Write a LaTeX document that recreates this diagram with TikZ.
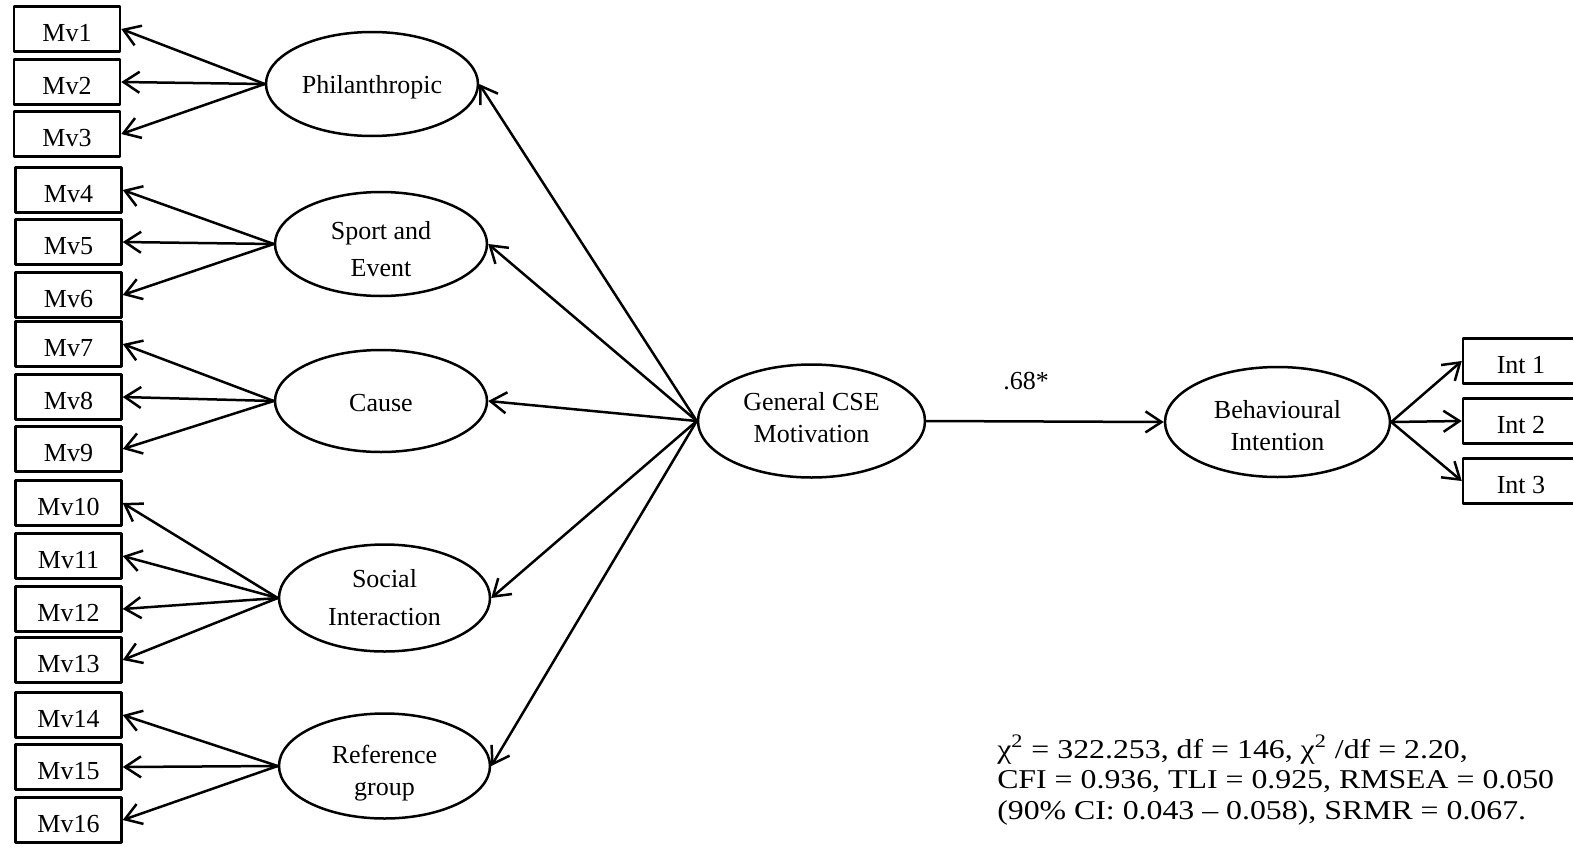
\documentclass[tikz,border=0pt]{standalone}
\usepackage{fontspec}
\setmainfont{Liberation Serif}
\newfontfamily\statfont[FakeStretch=1.17]{Liberation Serif}
\usetikzlibrary{shapes.geometric,arrows.meta}
\begin{document}
\begin{tikzpicture}[x=0.5pt,y=-0.5pt,>={Straight Barb[length=8pt,width=10.5pt]},
  line join=round, line cap=round, line width=1.25pt,
  font=\fontsize{13}{16}\selectfont,
  obs/.style={draw, rectangle, minimum width=53pt, minimum height=22.5pt, inner sep=0pt, text height=12pt, text depth=0pt},
  lat/.style={draw, ellipse, minimum width=106pt, minimum height=52pt, inner sep=0pt, align=center}]
\useasboundingbox (0,0) rectangle (1573,846);
% observed items
\foreach \i/\y in {1/29,2/82,3/134}
  \node[obs] (mv\i) at (67,\y) {Mv\i};
\foreach \i/\y in {4/190,5/242,6/295,7/344,8/397,9/449,10/503,11/556,12/609,13/660,14/715,15/767,16/820}
  \node[obs] (mv\i) at (68.5,\y) {Mv\i};
\foreach \i/\y in {1/361,2/421,3/481}
  \node[obs, minimum width=58pt] (int\i) at (1521,\y) {Int \i};
% latent factors
\node[lat, text height=12pt] (phil) at (372,84) {Philanthropic};
\node[lat, font=\fontsize{13}{18.5}\selectfont, text height=32.4pt] (sport) at (381,244) {Sport and\\Event};
\node[lat, minimum height=51pt, text height=10.6pt] (cause) at (381,401) {Cause};
\node[lat, minimum width=105.5pt, minimum height=53.5pt, font=\fontsize{13}{19}\selectfont] (social) at (384.5,598) {Social\\Interaction};
\node[lat, minimum width=105.5pt, minimum height=52.5pt, text height=32pt] (ref) at (384.5,766) {Reference\\group};
\node[lat, minimum width=113.5pt, minimum height=56.5pt, text height=22pt] (gen) at (811.5,421) {General CSE\\Motivation};
\node[lat, minimum width=112.5pt, minimum height=55pt, text height=29pt] (beh) at (1277.5,422) {Behavioural\\Intention};
% loadings
\foreach \i in {1,2,3} \draw[->] (phil.west) -- (mv\i.east);
\foreach \i in {4,5,6} \draw[->] (sport.west) -- (mv\i.east);
\foreach \i in {7,8,9} \draw[->] (cause.west) -- (mv\i.east);
\foreach \i in {10,11,12,13} \draw[->] (social.west) -- (mv\i.east);
\foreach \i in {14,15,16} \draw[->] (ref.west) -- (mv\i.east);
\foreach \n in {phil,sport,cause,social,ref} \draw[->] (gen.west) -- (\n.east);
\draw[->] (gen.east) -- (beh.west);
\foreach \i in {1,2,3} \draw[->] (beh.east) -- (int\i.west);
\node (coef) at (1026,381) {.68*};
% fit indices
\node[anchor=north west, inner sep=0pt, align=left, font=\statfont\fontsize{13.6}{15.2}\selectfont] (fit) at (996,734)
  {χ\textsuperscript{2} = 322.253, df = 146, χ\textsuperscript{2} /df = 2.20,\\
   CFI = 0.936, TLI = 0.925, RMSEA = 0.050\\
   (90\% CI: 0.043 – 0.058), SRMR = 0.067.};
\end{tikzpicture}
\end{document}
